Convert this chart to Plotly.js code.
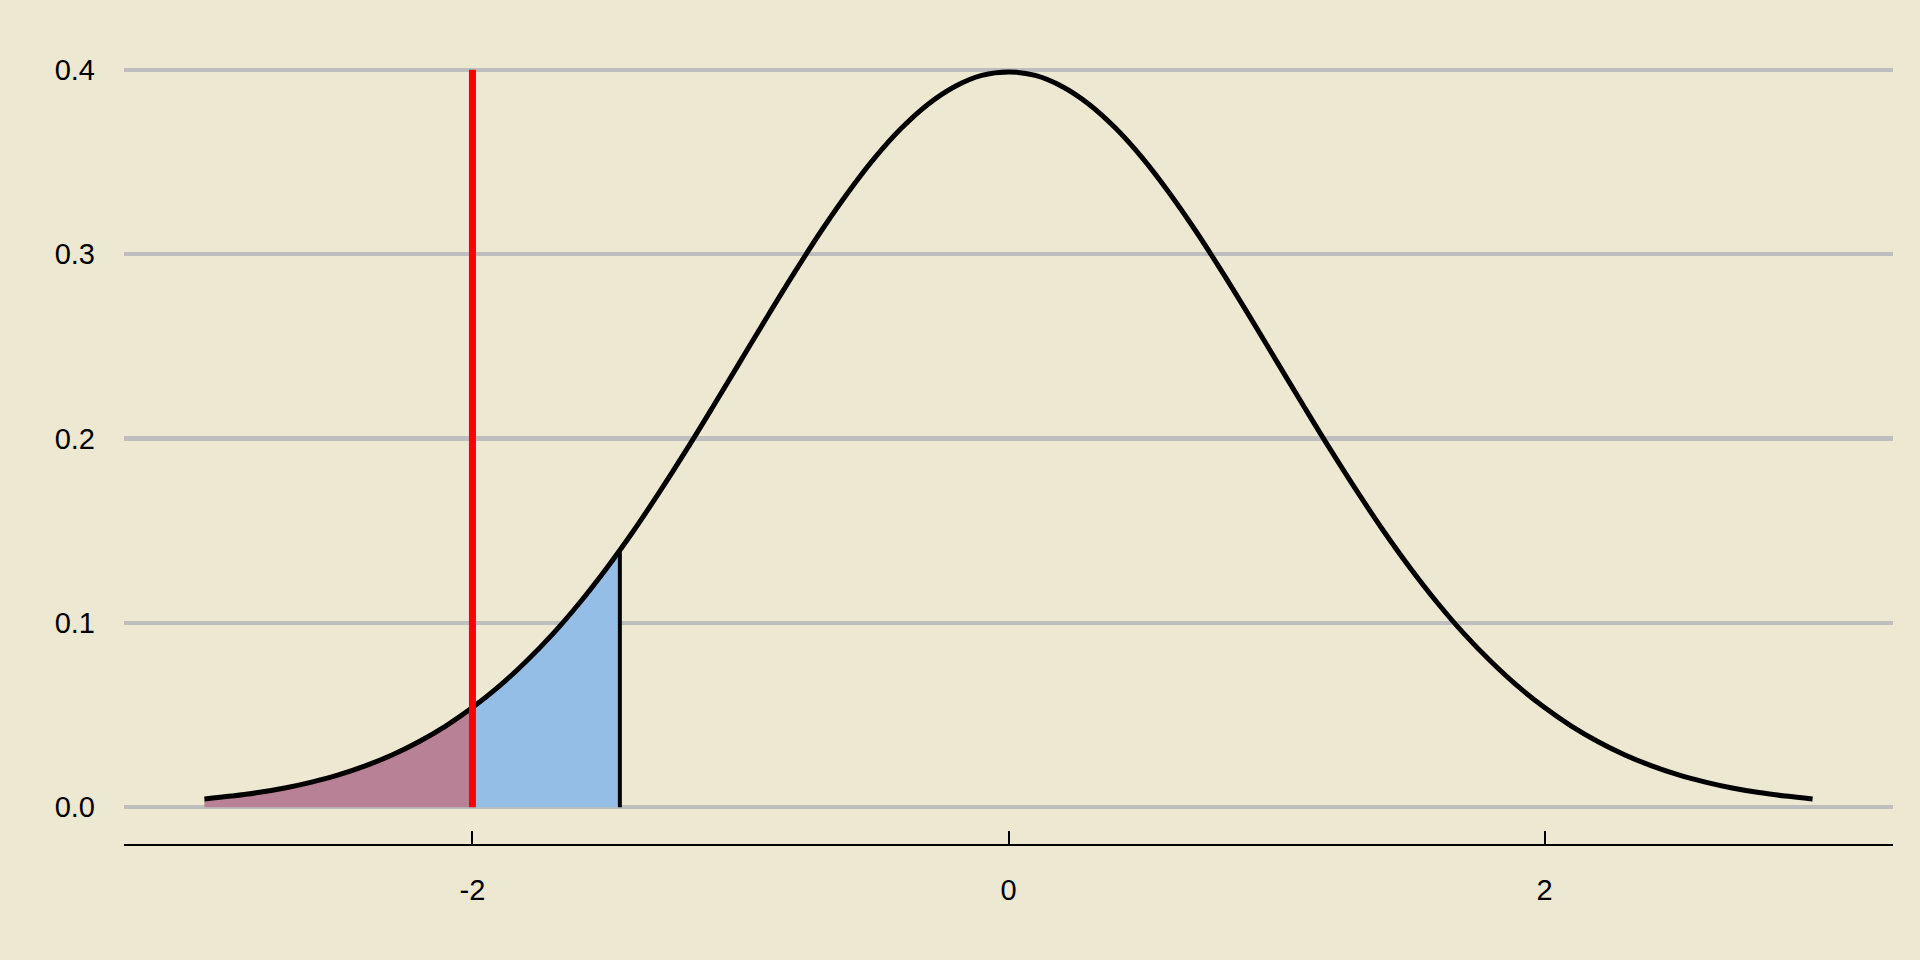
<!DOCTYPE html>
<html>
<head>
<meta charset="utf-8">
<script src="https://cdn.plot.ly/plotly-3.0.1.min.js"></script>
<style>html,body{margin:0;padding:0;background:#ECE8D1;}</style>
</head>
<body>
<div id="chart" style="width:1920px;height:960px;"></div>
<script>
// Density curve (x from -3 to 3, step 0.1)
const curveX = [-3.0,-2.9,-2.8,-2.7,-2.6,-2.5,-2.4,-2.3,-2.2,-2.1,-2.0,-1.9,-1.8,-1.7,-1.6,-1.5,-1.4,-1.3,-1.2,-1.1,-1.0,-0.9,-0.8,-0.7,-0.6,-0.5,-0.4,-0.3,-0.2,-0.1,0.0,0.1,0.2,0.3,0.4,0.5,0.6,0.7,0.8,0.9,1.0,1.1,1.2,1.3,1.4,1.5,1.6,1.7,1.8,1.9,2.0,2.1,2.2,2.3,2.4,2.5,2.6,2.7,2.8,2.9,3.0];
const curveY = [0.0044,0.0060,0.0079,0.0104,0.0136,0.0175,0.0224,0.0283,0.0355,0.0440,0.0540,0.0656,0.0790,0.0940,0.1109,0.1295,0.1497,0.1714,0.1942,0.2179,0.2420,0.2661,0.2897,0.3123,0.3332,0.3521,0.3683,0.3814,0.3910,0.3970,0.3989,0.3970,0.3910,0.3814,0.3683,0.3521,0.3332,0.3123,0.2897,0.2661,0.2420,0.2179,0.1942,0.1714,0.1497,0.1295,0.1109,0.0940,0.0790,0.0656,0.0540,0.0440,0.0355,0.0283,0.0224,0.0175,0.0136,0.0104,0.0079,0.0060,0.0044];

// Lower tail region (purple)
const tailX = [-3.0,-2.9,-2.8,-2.7,-2.6,-2.5,-2.4,-2.3,-2.2,-2.1,-2.0];
const tailY = [0.0044,0.0060,0.0079,0.0104,0.0136,0.0175,0.0224,0.0283,0.0355,0.0440,0.0540];

// Middle shaded region (blue)
const bandX = [-2.0,-1.9,-1.8,-1.7,-1.6,-1.5,-1.45];
const bandY = [0.0540,0.0656,0.0790,0.0940,0.1109,0.1295,0.1394];

// Vertical markers
const redLineX = [-2, -2];
const redLineY = [0, 0.4];
const blackLineX = [-1.45, -1.45];
const blackLineY = [0, 0.1394];

// Tick labels
const xTickVals = [-2, 0, 2];
const xTickText = ['-2', '0', '2'];
const yTickVals = [0, 0.1, 0.2, 0.3, 0.4];
const yTickText = ['0.0', '0.1', '0.2', '0.3', '0.4'];

const bg = '#ECE8D1';

const traces = [
  {x: tailX, y: tailY, type: 'scatter', mode: 'lines', fill: 'tozeroy',
   fillcolor: '#B98195', line: {width: 0, color: '#B98195'}, hoverinfo: 'skip', showlegend: false},
  {x: bandX, y: bandY, type: 'scatter', mode: 'lines', fill: 'tozeroy',
   fillcolor: '#95BEE7', line: {width: 0, color: '#95BEE7'}, hoverinfo: 'skip', showlegend: false},
  {x: blackLineX, y: blackLineY, type: 'scatter', mode: 'lines',
   line: {color: '#000000', width: 4}, showlegend: false},
  {x: curveX, y: curveY, type: 'scatter', mode: 'lines',
   line: {color: '#000000', width: 5, shape: 'spline', smoothing: 1}, showlegend: false},
  {x: redLineX, y: redLineY, type: 'scatter', mode: 'lines',
   line: {color: '#FF0000', width: 7}, showlegend: false}
];

const layout = {
  width: 1920, height: 960,
  paper_bgcolor: bg, plot_bgcolor: bg,
  margin: {l: 124, r: 27, t: 33, b: 116},
  font: {family: '"Liberation Sans", Arial, sans-serif', size: 29, color: '#000000'},
  showlegend: false,
  xaxis: {
    range: [-3.3, 3.3], showgrid: false, zeroline: false,
    showline: true, linecolor: '#000000', linewidth: 1.5,
    ticks: 'inside', ticklen: 13, tickwidth: 2, tickcolor: '#000000',
    tickvals: xTickVals, ticktext: xTickText,
    ticklabelstandoff: 20
  },
  yaxis: {
    range: [-0.02, 0.42], showgrid: true, gridcolor: '#BEBEBE', gridwidth: 4.5,
    zeroline: false, showline: false, ticks: '',
    tickvals: yTickVals, ticktext: yTickText,
    ticklabelstandoff: 28
  }
};

Plotly.newPlot('chart', traces, layout, {displayModeBar: false, staticPlot: true});
</script>
</body>
</html>
